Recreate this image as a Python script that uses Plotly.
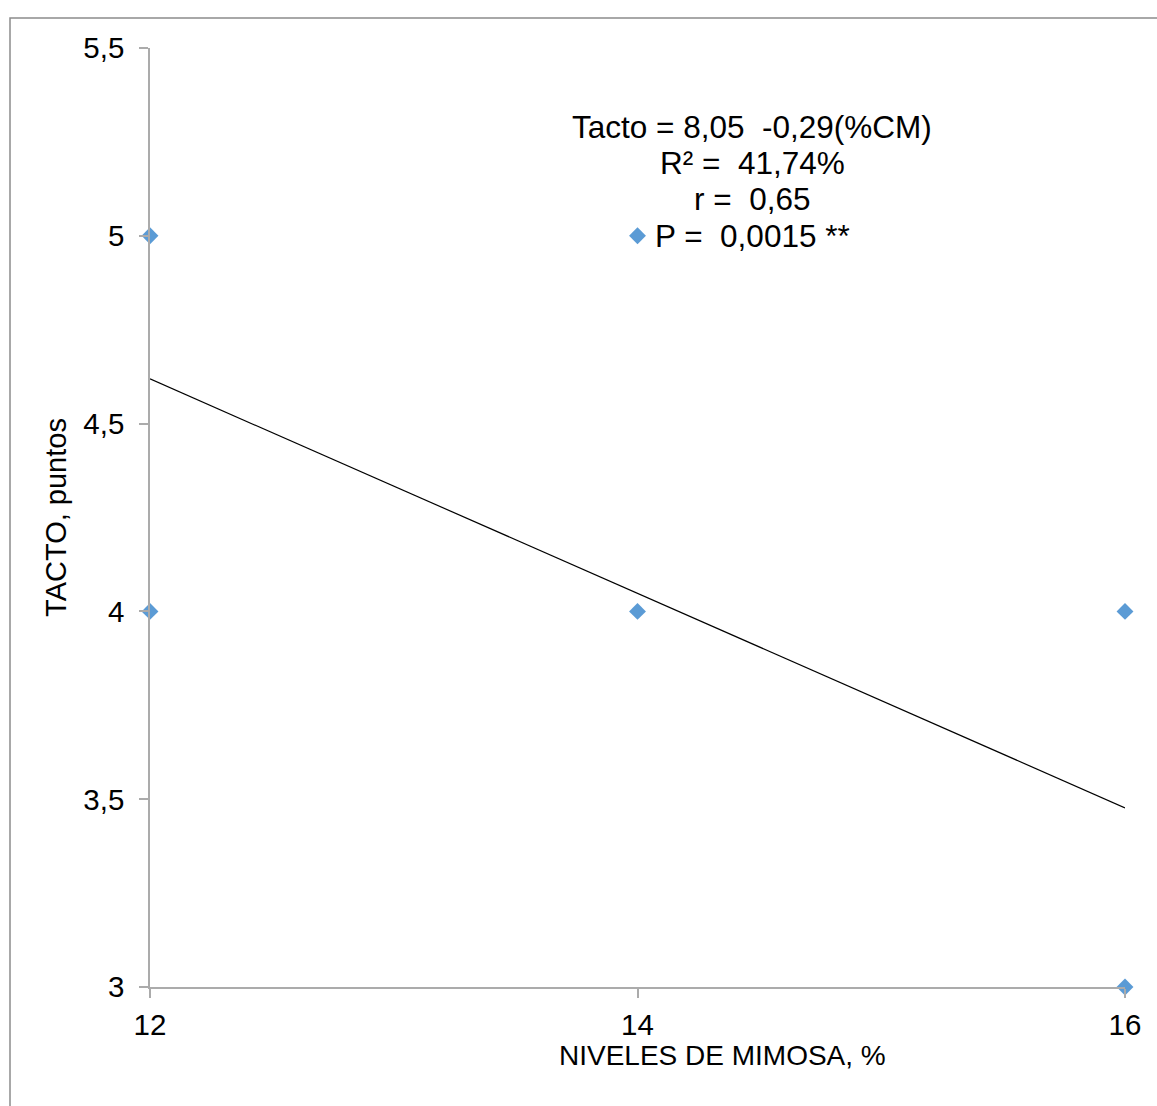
import plotly.graph_objects as go

# Observed scores for each mimosa level
niveles = [12, 12, 14, 14, 16, 16]
tacto = [5, 4, 5, 4, 4, 3]

# Fitted regression: Tacto = intercept + slope * %CM
intercepto = 8.045
pendiente = -0.2855
x_linea = [12, 16]
y_linea = [intercepto + pendiente * x for x in x_linea]

NB = "\u00a0"
ecuacion = [
    f"Tacto = 8,05 {NB}-0,29(%CM)",
    f"R² = {NB}41,74%",
    f"r = {NB}0,65",
    f"P = {NB}0,0015 **",
]

y_ticks = [3, 3.5, 4, 4.5, 5, 5.5]
y_tick_text = ["3", "3,5", "4", "4,5", "5", "5,5"]
x_ticks = [12, 14, 16]

FONT = "Liberation Sans, Arial, sans-serif"
AXIS = "#ABABAB"

# plot area in pixels: x 150..1125, y 48..987
L, R, T, B = 150, 1125, 48, 987


def px_x(p):
    return (p - L) / (R - L)


def px_y(p):
    return (B - p) / (B - T)


fig = go.Figure()
fig.add_trace(go.Scatter(
    x=x_linea, y=y_linea, mode="lines",
    line=dict(color="black", width=1.2), showlegend=False, hoverinfo="skip",
))
fig.add_trace(go.Scatter(
    x=niveles, y=tacto, mode="markers",
    marker=dict(symbol="diamond", size=13, color="#5B9BD5"),
    showlegend=False, cliponaxis=False,
))

annotations = [
    dict(
        text=line, xref="paper", yref="paper",
        x=px_x(752), y=px_y(yc), xanchor="center", yanchor="middle",
        showarrow=False, font=dict(size=31.5),
    )
    for line, yc in zip(ecuacion, [127, 163, 199, 236])
]
annotations.append(dict(
    text="NIVELES DE MIMOSA, %", xref="paper", yref="paper",
    x=px_x(722), y=px_y(1055), xanchor="center", yanchor="middle",
    showarrow=False, font=dict(size=28),
))

fig.update_layout(
    width=1157, height=1106,
    margin=dict(l=L, r=1157 - R, t=T, b=1106 - B),
    paper_bgcolor="white", plot_bgcolor="white",
    font=dict(family=FONT, size=28, color="black"),
    xaxis=dict(
        range=[12, 16], tickvals=x_ticks, ticktext=[str(v) for v in x_ticks],
        showgrid=False, zeroline=False, showline=True, linecolor=AXIS, linewidth=1.5,
        ticks="outside", ticklen=9, tickcolor=AXIS, tickwidth=1.5,
        tickfont=dict(size=29.5), ticklabelstandoff=2,
    ),
    yaxis=dict(
        range=[3, 5.5], tickvals=y_ticks, ticktext=y_tick_text,
        showgrid=False, zeroline=False, showline=True, linecolor=AXIS, linewidth=1.5,
        ticks="outside", ticklen=9, tickcolor=AXIS, tickwidth=1.5,
        tickfont=dict(size=29.5), ticklabelstandoff=9,
        title=dict(text="TACTO, puntos", font=dict(size=29), standoff=8),
    ),
    annotations=annotations,
    shapes=[
        dict(
            type="rect", xref="paper", yref="paper", layer="below",
            x0=px_x(10), x1=px_x(1170), y0=px_y(1120), y1=px_y(18),
            line=dict(color="#8C8C8C", width=1.5), fillcolor="rgba(0,0,0,0)",
        )
    ],
)

fig.write_html("out.html")
